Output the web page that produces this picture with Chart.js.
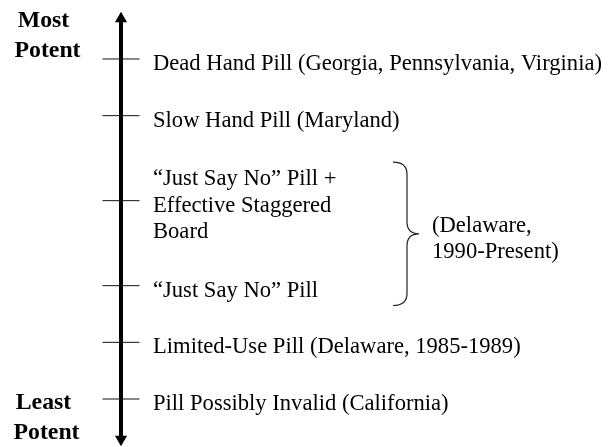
<!DOCTYPE html>
<html>
<head>
<meta charset="utf-8">
<script src="https://cdn.jsdelivr.net/npm/chart.js@4.4.1/dist/chart.umd.min.js"></script>
<style>
	html, body { margin: 0; padding: 0; background: #fff; }
	#wrap { width: 610px; height: 447px; }
</style>
</head>
<body>
<div id="wrap"><canvas id="potency"></canvas></div>
<script>
// potency levels, from most to least potent
var levelLabels = [
	['Dead Hand Pill (Georgia, Pennsylvania, Virginia)'],
	['Slow Hand Pill (Maryland)'],
	['\u201cJust Say No\u201d Pill +', 'Effective Staggered', 'Board'],
	['\u201cJust Say No\u201d Pill'],
	['Limited-Use Pill (Delaware, 1985-1989)'],
	['Pill Possibly Invalid (California)']
];
var levelValues = [7, 6, 4.5, 3, 2, 1];

// levels grouped by the brace
var groupLabel = ['(Delaware,', '1990-Present)'];
var groupRange = [2.65, 5.18];

var topLabel = ['Most', 'Potent'];
var bottomLabel = ['Least', 'Potent'];
var axisRange = [0.29, 7.71];

var AXIS_X = 121;
var serif = '"Liberation Serif", "Times New Roman", serif';

var tickPoints = [];
$each = function (arr, fn) { for (var i = 0; i < arr.length; i++) fn(i, arr[i]); };
$each(levelValues, function (i, v) {
	tickPoints.push({ x: AXIS_X, y: v });
});

var labelsPlugin = {
	id: 'labels',
	afterDatasetsDraw: function (chart) {
		var ctx = chart.ctx;
		var ys = chart.scales.y;
		ctx.save();
		ctx.fillStyle = '#000';
		ctx.textBaseline = 'alphabetic';

		// level labels
		ctx.font = '22.6px ' + serif;
		ctx.textAlign = 'left';
		$each(levelValues, function (i, v) {
			var py = ys.getPixelForValue(v);
			var lines = levelLabels[i];
			var mid = (lines.length - 1) / 2;
			$each(lines, function (j, line) {
				ctx.fillText(line, 153, py + 11 + (j - mid) * 26.5);
			});
		});

		// brace
		var top = ys.getPixelForValue(groupRange[1]);
		var bot = ys.getPixelForValue(groupRange[0]);
		var mid = (top + bot) / 2;
		var x0 = 393, x1 = 407, x2 = 419;
		ctx.strokeStyle = '#222';
		ctx.lineWidth = 1.2;
		ctx.beginPath();
		ctx.moveTo(x0, top);
		ctx.quadraticCurveTo(x1, top, x1, top + 12);
		ctx.lineTo(x1, mid - 12);
		ctx.quadraticCurveTo(x1, mid, x2, mid);
		ctx.quadraticCurveTo(x1, mid, x1, mid + 12);
		ctx.lineTo(x1, bot - 12);
		ctx.quadraticCurveTo(x1, bot, x0, bot);
		ctx.stroke();

		ctx.fillText(groupLabel[0], 432, mid - 2);
		ctx.fillText(groupLabel[1], 432, mid + 24.5);

		// end labels
		ctx.font = 'bold 23.8px ' + serif;
		ctx.textAlign = 'center';
		ctx.fillText(topLabel[0], 43.5, 27);
		ctx.fillText(topLabel[1], 47.5, 57);
		ctx.fillText(bottomLabel[0], 43.5, 409);
		ctx.fillText(bottomLabel[1], 46.5, 439);
		ctx.restore();
	}
};

var ctx = document.getElementById('potency');

var data = {
	datasets: [{
			label: 'ticks',
			type: 'scatter',
			data: tickPoints,
			pointStyle: 'line',
			pointRadius: 18.5,
			pointHoverRadius: 18.5,
			borderColor: '#111',
			borderWidth: 1
		}, {
			label: 'axis',
			type: 'line',
			data: [{ x: AXIS_X, y: axisRange[0] }, { x: AXIS_X, y: axisRange[1] }],
			borderColor: '#000',
			backgroundColor: '#000',
			borderWidth: 4,
			pointStyle: 'triangle',
			pointRadius: 7,
			pointBorderWidth: 0,
			pointRotation: function (c) { return c.dataIndex === 0 ? 180 : 0; },
			fill: false,
			clip: false
		}
	]
};

var options = {
	responsive: true,
	maintainAspectRatio: false,
	animation: false,
	events: [],
	layout: { padding: 0, autoPadding: false },
	plugins: {
		legend: { display: false },
		tooltip: { enabled: false }
	},
	scales: {
		x: { type: 'linear', min: 0, max: 610, display: false },
		y: { type: 'linear', min: 0.153, max: 8.041, display: false }
	}
};

var chart = new Chart(ctx, {
	type: 'scatter',
	data: data,
	options: options,
	plugins: [labelsPlugin]
});
</script>
</body>
</html>
